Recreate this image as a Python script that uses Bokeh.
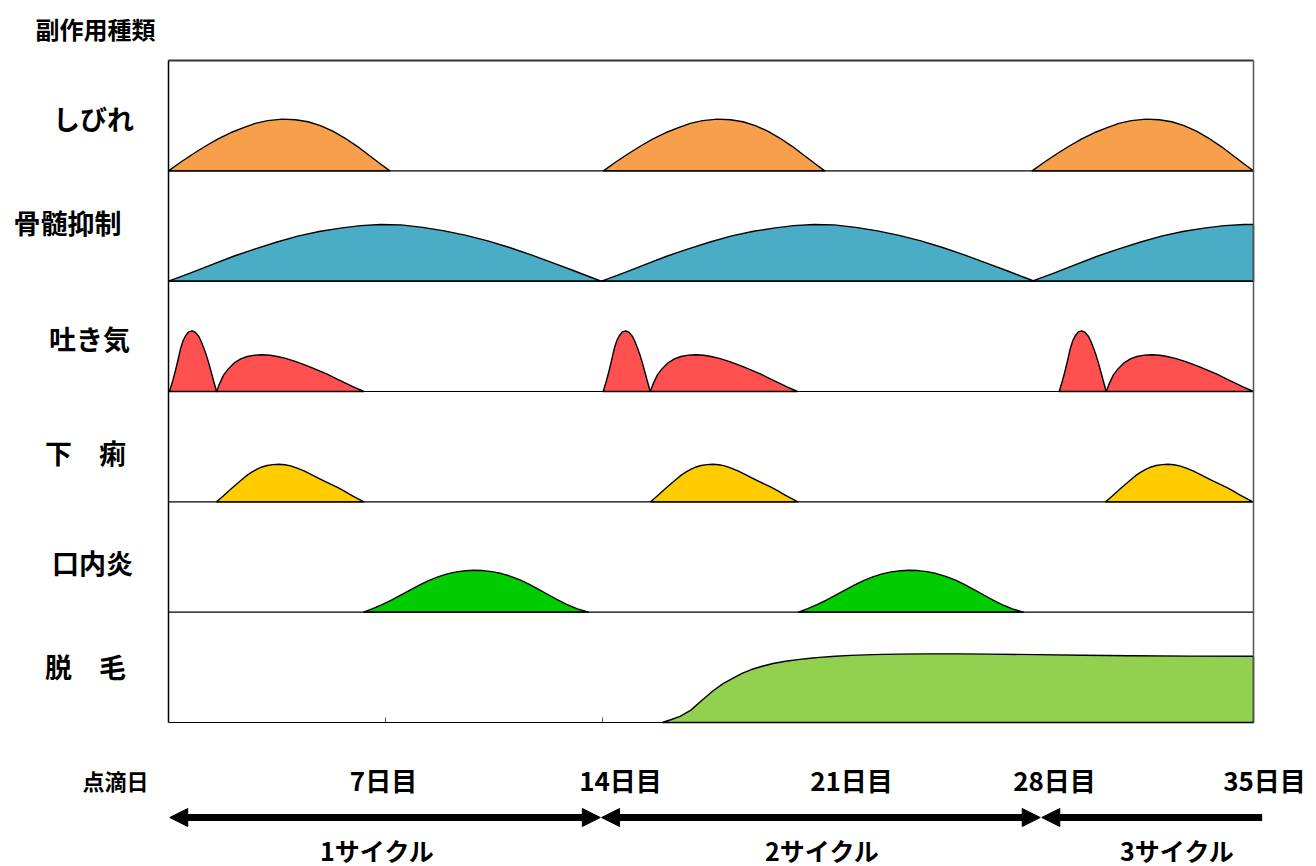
from bokeh.plotting import figure
from bokeh.models import Range1d, Arrow, NormalHead
from bokeh.core.properties import value
from bokeh.embed import file_html
from bokeh.resources import INLINE

# ---------------- data ----------------
rows = ["しびれ", "骨髄抑制", "吐き気", "下　痢", "口内炎", "脱　毛"]
colors = ["#F79F4A", "#4BACC6", "#FF5050", "#FFCC00", "#00CC00", "#92D050"]

# しびれ (numbness): offsets (days from bump start) and heights (fraction of band)
shibire_dx = [0.0, 0.4, 0.8, 1.2, 1.6, 2.0, 2.4, 2.8, 3.2, 3.67, 4.1, 4.5, 4.9, 5.3, 5.7, 6.1, 6.5, 6.85, 7.14]
shibire_h = [0.0, 0.08, 0.155, 0.225, 0.29, 0.345, 0.39, 0.43, 0.455, 0.469, 0.463, 0.445, 0.41, 0.36, 0.295,
             0.22, 0.135, 0.06, 0.0]
shibire_starts = [0.0, 14.03, 27.86]

# 骨髄抑制 (bone-marrow suppression)
kotsuzui_dx = [0.0, 0.7, 1.4, 2.1, 2.8, 3.5, 4.2, 4.9, 5.6, 6.2, 6.84, 7.5, 8.2, 8.9, 9.6, 10.3, 11.0, 11.7,
               12.4, 13.1, 13.6, 13.96]
kotsuzui_h = [0.0, 0.073, 0.15, 0.226, 0.293, 0.355, 0.41, 0.452, 0.483, 0.503, 0.514, 0.51, 0.488, 0.456,
              0.415, 0.365, 0.305, 0.238, 0.165, 0.092, 0.038, 0.0]
kotsuzui_starts = [0.0, 13.97]
kotsuzui_last_dx = [0.0, 0.7, 1.4, 2.1, 2.8, 3.5, 4.2, 4.9, 5.6, 6.2, 6.84, 7.14]
kotsuzui_last_h = [0.0, 0.073, 0.15, 0.226, 0.293, 0.355, 0.41, 0.452, 0.483, 0.503, 0.514, 0.514]
kotsuzui_last_start = 27.86

# 吐き気 (nausea): sharp early peak + broader late peak
hakike_a_dx = [0.0, 0.1, 0.2, 0.28, 0.36, 0.44, 0.52, 0.62, 0.73, 0.84, 0.95, 1.03, 1.11, 1.19, 1.27, 1.35,
               1.43, 1.52]
hakike_a_h = [0.0, 0.09, 0.197, 0.29, 0.39, 0.46, 0.505, 0.54, 0.55, 0.535, 0.499, 0.45, 0.393, 0.33, 0.257,
              0.175, 0.091, 0.0]
hakike_b_dx = [1.52, 1.6, 1.75, 1.9, 2.08, 2.3, 2.51, 2.75, 2.99, 3.25, 3.48, 3.75, 4.01, 4.28, 4.55, 4.82,
               5.09, 5.36, 5.63, 5.95, 6.27]
hakike_b_h = [0.0, 0.06, 0.151, 0.205, 0.257, 0.295, 0.317, 0.33, 0.333, 0.328, 0.317, 0.3, 0.278, 0.25,
              0.221, 0.19, 0.157, 0.12, 0.082, 0.04, 0.0]
hakike_starts = [0.03, 14.02, 28.73]

# 下痢 (diarrhoea)
geri_dx = [0.0, 0.17, 0.34, 0.5, 0.67, 0.83, 0.99, 1.15, 1.31, 1.47, 1.63, 1.82, 2.01, 2.2, 2.39, 2.6, 2.82,
           3.03, 3.25, 3.46, 3.68, 3.9, 4.11, 4.27, 4.43, 4.6, 4.75]
geri_h = [0.0, 0.042, 0.085, 0.126, 0.166, 0.205, 0.242, 0.272, 0.296, 0.316, 0.329, 0.337, 0.34, 0.336, 0.326,
          0.306, 0.281, 0.251, 0.22, 0.19, 0.16, 0.13, 0.10, 0.073, 0.048, 0.022, 0.0]
geri_starts = [1.55, 15.55, 30.23]

# 口内炎 (stomatitis)
kounai_dx = [0.0, 0.3, 0.6, 0.9, 1.2, 1.5, 1.8, 2.1, 2.4, 2.7, 3.0, 3.3, 3.55, 3.85, 4.15, 4.45, 4.75, 5.05,
             5.35, 5.65, 5.95, 6.25, 6.55, 6.9, 7.26]
kounai_h = [0.0, 0.032, 0.068, 0.11, 0.155, 0.2, 0.245, 0.285, 0.32, 0.347, 0.365, 0.376, 0.38, 0.377, 0.367,
            0.35, 0.325, 0.292, 0.252, 0.207, 0.16, 0.113, 0.07, 0.03, 0.0]
kounai_starts = [6.29, 20.32]

# 脱毛 (hair loss)
datsumo_x = [15.93, 16.2, 16.5, 16.84, 17.2, 17.58, 17.9, 18.2, 18.5, 18.8, 19.15, 19.5, 19.9, 20.3, 20.7,
             21.0, 21.5, 22.0, 22.7, 23.5, 24.5, 25.5, 26.5, 28.0, 29.5, 31.0, 33.0, 35.0]
datsumo_h = [0.0, 0.025, 0.055, 0.11, 0.2, 0.29, 0.355, 0.40, 0.445, 0.48, 0.51, 0.535, 0.555, 0.57, 0.582,
             0.59, 0.6, 0.608, 0.615, 0.62, 0.622, 0.622, 0.62, 0.615, 0.61, 0.605, 0.602, 0.60]

day_ticks = [7, 14]
tick_labels = ["点滴日", "7日目", "14日目", "21日目", "28日目", "35日目"]
cycle_labels = ["1サイクル", "2サイクル", "3サイクル"]
cycle_arrows = [(0.04, 13.93, True, True), (13.97, 28.12, True, True), (28.17, 35.28, True, False)]
total_days = 35

# ---------------- layout helpers ----------------
PX_DAY = 31.0         # pixels per day
BAND_PX = 662.0 / 6   # pixels per band
LEFT_PX = 168.0       # figure x of day 0
BASE_PX = 722.0       # figure y of lowest baseline
W, H = 1316, 866


def px_x(px):  # page x -> day
    return (px - 168.0) / PX_DAY


def px_y(py):  # page y -> band units
    return (722.0 - py) / BAND_PX


p = figure(width=W, height=H, output_backend="svg", toolbar_location=None,
           x_range=Range1d(-LEFT_PX / PX_DAY, (W - LEFT_PX) / PX_DAY),
           y_range=Range1d(-(H - BASE_PX) / BAND_PX, BASE_PX / BAND_PX),
           x_axis_type=None, y_axis_type=None, min_border=0)
p.outline_line_color = None
p.grid.visible = False
p.background_fill_color = "white"
p.border_fill_color = "white"

FONT = value("Noto Sans CJK JP")

# baseline index per row (top row = 5)
base = {name: 5 - i for i, name in enumerate(rows)}

# tick marks
p.segment(x0=day_ticks, y0=[0] * len(day_ticks), x1=day_ticks,
          y1=[5 / BAND_PX] * len(day_ticks), line_color="#555555", line_width=1)


def bump(row, starts, dx, h, color, close_end=False):
    xs_all, ys_all = [], []
    b = base[row]
    for s in starts:
        xs = [s + d for d in dx]
        ys = [b + v for v in h]
        if close_end:
            xs = xs + [xs[-1]]
            ys = ys + [b]
        xs_all.append(xs)
        ys_all.append(ys)
    p.patches(xs_all, ys_all, fill_color=color, line_color="black", line_width=1.4,
              line_join="round")


bump(rows[0], shibire_starts, shibire_dx, shibire_h, colors[0])
bump(rows[1], kotsuzui_starts, kotsuzui_dx, kotsuzui_h, colors[1])
bump(rows[1], [kotsuzui_last_start], kotsuzui_last_dx, kotsuzui_last_h, colors[1], close_end=True)
bump(rows[2], hakike_starts, hakike_a_dx, hakike_a_h, colors[2])
bump(rows[2], hakike_starts, hakike_b_dx, hakike_b_h, colors[2])
bump(rows[3], geri_starts, geri_dx, geri_h, colors[3])
bump(rows[4], kounai_starts, kounai_dx, kounai_h, colors[4])
bump(rows[5], [0.0], datsumo_x, datsumo_h, colors[5], close_end=True)

# band separators / frame
p.segment(x0=[0] * 6, y0=list(range(6)), x1=[total_days] * 6, y1=list(range(6)),
          line_color="black", line_width=1.2)
p.segment(x0=[0], y0=[6], x1=[total_days], y1=[6], line_color="#333333", line_width=2)
p.segment(x0=[0], y0=[0], x1=[0], y1=[6], line_color="black", line_width=1.5)
p.segment(x0=[total_days], y0=[0], x1=[total_days], y1=[6], line_color="#555555", line_width=1.5)

# row labels
row_lx = [px_x(93), px_x(67), px_x(89), px_x(85), px_x(92), px_x(85)]
row_ly = [px_y(118), px_y(222), px_y(338), px_y(452), px_y(562), px_y(666)]
p.text(x=row_lx, y=row_ly, text=rows, text_font=FONT, text_font_style="bold",
       text_font_size="27px", text_align="center", text_baseline="middle", text_color="black")

# title
p.text(x=[px_x(95)], y=[px_y(28)], text=["副作用種類"], text_font=FONT, text_font_style="bold",
       text_font_size="24px", text_align="center", text_baseline="middle", text_color="black")

# day labels
lab_x = [px_x(115), px_x(383), px_x(620), px_x(851), px_x(1054), px_x(1264)]
lab_y = px_y(779)
p.text(x=lab_x[:1], y=[lab_y], text=tick_labels[:1], text_font=FONT, text_font_style="bold",
       text_font_size="22px", text_align="center", text_baseline="middle", text_color="black")
p.text(x=lab_x[1:], y=[lab_y] * 5, text=tick_labels[1:], text_font=FONT, text_font_style="bold",
       text_font_size="26px", text_align="center", text_baseline="middle", text_color="black")

# cycle arrows
arrow_y = px_y(817)
for x0, x1, head_start, head_end in cycle_arrows:
    kw = {}
    kw["start"] = NormalHead(size=18, fill_color="black", line_color="black", line_width=1) if head_start else None
    kw["end"] = NormalHead(size=18, fill_color="black", line_color="black", line_width=1) if head_end else None
    p.add_layout(Arrow(x_start=x0, y_start=arrow_y, x_end=x1, y_end=arrow_y,
                       line_width=7, line_color="black", **kw))

cyc_x = [px_x(377), px_x(822), px_x(1177)]
p.text(x=cyc_x, y=[px_y(849)] * 3, text=cycle_labels, text_font=FONT, text_font_style="bold",
       text_font_size="25px", text_align="center", text_baseline="middle", text_color="black")

open("out.html", "w").write(file_html(p, INLINE))
